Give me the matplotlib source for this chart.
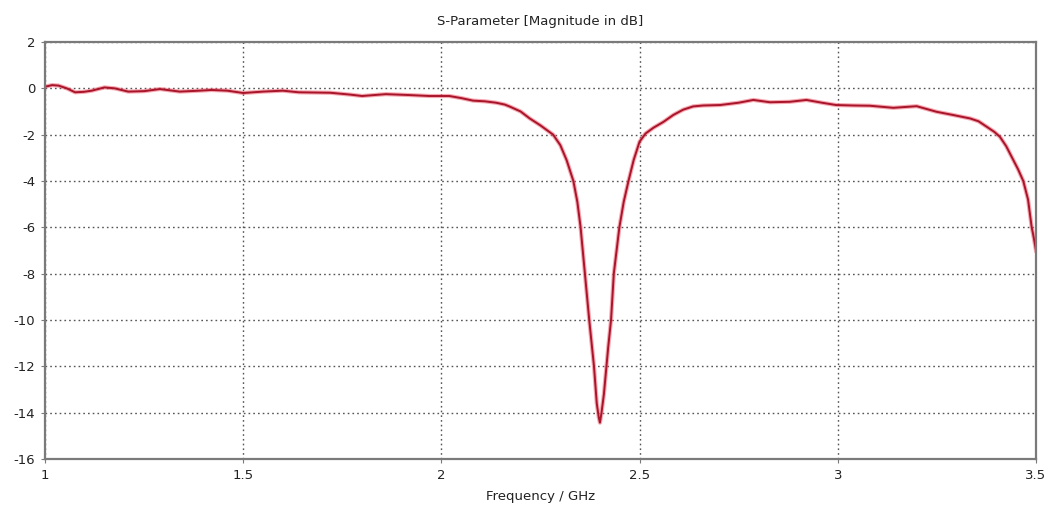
import matplotlib
matplotlib.use("Agg")
import matplotlib.pyplot as plt

freq_ghz = [1.0, 1.018, 1.034, 1.055, 1.076, 1.098, 1.118, 1.15, 1.176, 1.21, 1.25, 1.29, 1.34,
            1.39, 1.42, 1.46, 1.50, 1.55, 1.60, 1.64, 1.72, 1.77, 1.80, 1.86, 1.92, 1.97, 2.02,
            2.05, 2.08, 2.11, 2.138, 2.16, 2.173, 2.20, 2.223, 2.25, 2.282, 2.30, 2.316, 2.333,
            2.343, 2.351, 2.362, 2.373, 2.385, 2.392, 2.397,
            2.400, 2.404, 2.410, 2.421, 2.428, 2.435, 2.449, 2.46, 2.472, 2.485, 2.50, 2.515,
            2.535, 2.56, 2.585, 2.61, 2.635, 2.66,
            2.703, 2.75, 2.787, 2.829, 2.879, 2.921, 2.96, 2.996, 3.04, 3.081, 3.140, 3.199,
            3.249, 3.291, 3.334, 3.355, 3.376, 3.395, 3.409, 3.425, 3.443, 3.455, 3.468, 3.48,
            3.489, 3.495, 3.50]
s11_db = [0.07, 0.14, 0.12, 0.0, -0.17, -0.15, -0.1, 0.04, 0.0, -0.14, -0.12, -0.03, -0.14,
          -0.1, -0.07, -0.1, -0.2, -0.14, -0.1, -0.17, -0.19, -0.27, -0.33, -0.25, -0.29, -0.33, -0.33,
          -0.42, -0.53, -0.56, -0.62, -0.7, -0.79, -1.0, -1.3, -1.6, -2.0, -2.45, -3.1, -4.0,
          -4.9, -5.97, -7.98, -10.0, -12.0, -13.6, -14.2,
          -14.43, -14.0, -13.2, -11.15, -10.0, -8.0, -6.0, -4.9, -4.0, -3.1, -2.3, -1.95,
          -1.7, -1.45, -1.15, -0.92, -0.78, -0.74,
          -0.72, -0.62, -0.5, -0.6, -0.58, -0.5, -0.62, -0.72, -0.74, -0.75, -0.84, -0.77,
          -1.01, -1.15, -1.30, -1.42, -1.66, -1.88, -2.09, -2.5, -3.1, -3.5, -4.0, -4.8,
          -5.97, -6.5, -7.0]

x_ticks = [1, 1.5, 2, 2.5, 3, 3.5]
x_tick_labels = ["1", "1.5", "2", "2.5", "3", "3.5"]
y_ticks = [2, 0, -2, -4, -6, -8, -10, -12, -14, -16]

fig = plt.figure(figsize=(10.51, 5.15), dpi=100)
ax = fig.add_axes([0.0428, 0.1087, 0.9429, 0.8097])

ax.plot(freq_ghz, s11_db, color="#f06070", lw=3.0, alpha=0.55, solid_joinstyle="round")
ax.plot(freq_ghz, s11_db, color="#a8142a", lw=1.4, solid_joinstyle="round")

ax.set_xlim(1, 3.5)
ax.set_ylim(-16, 2)
ax.set_xticks(x_ticks)
ax.set_xticklabels(x_tick_labels)
ax.set_yticks(y_ticks)
ax.set_yticklabels([str(v) for v in y_ticks])
ax.grid(True, color="#555555", linestyle=(0, (1.2, 2.2)), linewidth=1.0)
for s in ax.spines.values():
    s.set_color("#7a7a7a")
    s.set_linewidth(1.6)
ax.tick_params(axis="both", length=3, color="#7a7a7a", labelsize=9.5, labelcolor="#222222", pad=4)

ax.set_title("S-Parameter [Magnitude in dB]", fontsize=9.5, color="#222222", pad=12)
ax.set_xlabel("Frequency / GHz", fontsize=9.5, color="#222222", labelpad=6)

fig.savefig("out.png", dpi=100)
